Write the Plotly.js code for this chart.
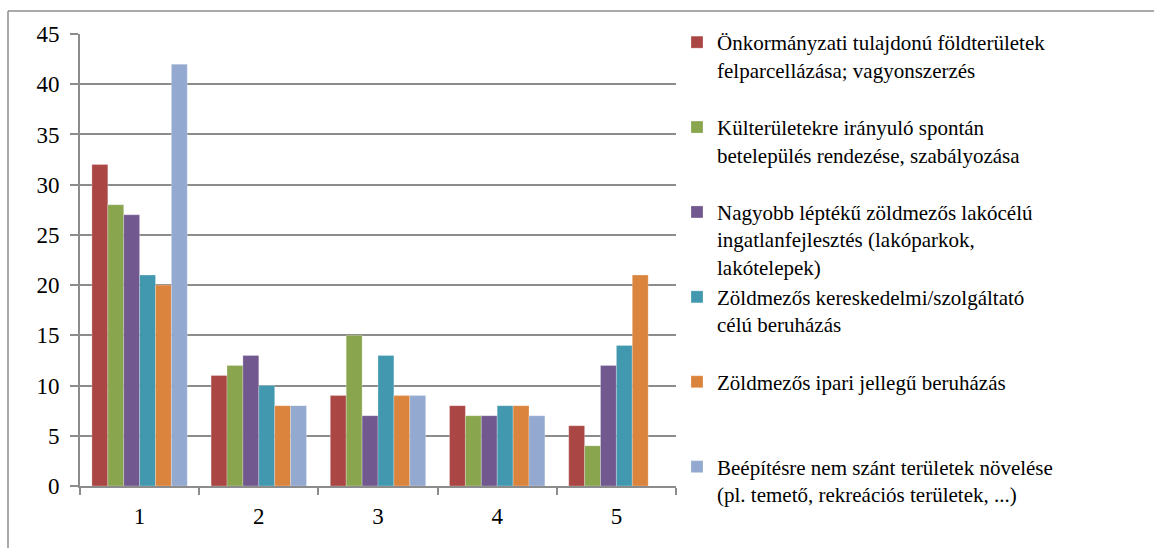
<!DOCTYPE html>
<html><head><meta charset="utf-8">
<script src="https://cdn.plot.ly/plotly-3.0.1.min.js"></script>
<style>html,body{margin:0;padding:0;background:#fff}</style>
</head><body><div id="chart" style="width:1154px;height:548px"></div>
<script>
const categories = ['1', '2', '3', '4', '5'];
const seriesNames = [
  'Önkormányzati tulajdonú földterületek<br>felparcellázása; vagyonszerzés<br> ',
  'Külterületekre irányuló spontán<br>betelepülés rendezése, szabályozása<br> ',
  'Nagyobb léptékű zöldmezős lakócélú<br>ingatlanfejlesztés (lakóparkok,<br>lakótelepek)',
  'Zöldmezős kereskedelmi/szolgáltató<br>célú beruházás<br> ',
  'Zöldmezős ipari jellegű beruházás<br> <br> ',
  'Beépítésre nem szánt területek növelése<br>(pl. temető, rekreációs területek, ...)'
];
const s1 = [32, 11, 9, 8, 6];
const s2 = [28, 12, 15, 7, 4];
const s3 = [27, 13, 7, 7, 12];
const s4 = [21, 10, 13, 8, 14];
const s5 = [20, 8, 9, 8, 21];
const s6 = [42, 8, 9, 7, 0];
const seriesValues = [s1, s2, s3, s4, s5, s6];
const colors = ['#AA4643', '#89A54E', '#71588F', '#4198AF', '#DB843D', '#93A9CF'];

const traces = seriesValues.map((v, i) => ({
  type: 'bar', x: categories, y: v, name: seriesNames[i],
  marker: {color: colors[i], line: {color: 'rgba(255,255,255,0.5)', width: 0.5}}
}));

const W = 596, H = 452, L = 80, T = 34;
const px = x => (x - L) / W;
const py = y => 1 - (y - T) / H;

const layout = {
  width: 1154, height: 548,
  margin: {l: L, r: 1154 - L - W, t: T, b: 548 - T - H},
  paper_bgcolor: '#fff', plot_bgcolor: '#fff',
  barmode: 'group', bargap: 0.2, bargroupgap: 0,
  font: {family: 'Times New Roman', size: 21, color: '#000'},
  showlegend: true,
  legend: {x: px(677), y: py(22), xanchor: 'left', yanchor: 'top', valign: 'top', maxheight: 1,
           font: {family: 'Times New Roman', size: 21, color: '#000'}, tracegroupgap: 0, bgcolor: 'rgba(0,0,0,0)'},
  xaxis: {type: 'category', showgrid: false, showline: true, linecolor: '#8c8c8c', linewidth: 2,
          ticks: 'outside', tickson: 'boundaries', ticklen: 7, tickcolor: '#8c8c8c', tickwidth: 2,
          tickfont: {family: 'Times New Roman', size: 23, color: '#000'}, ticklabelstandoff: 8},
  yaxis: {range: [0, 45], dtick: 5, showgrid: true, gridcolor: '#8c8c8c', gridwidth: 2,
          showline: true, linecolor: '#8c8c8c', linewidth: 2, zeroline: false,
          ticks: 'outside', ticklen: 8, tickcolor: '#8c8c8c', tickwidth: 2,
          tickfont: {family: 'Times New Roman', size: 23, color: '#000'}, ticklabelstandoff: 6},
  shapes: [
    {type: 'line', xref: 'paper', yref: 'paper', x0: px(8), x1: px(1160), y0: py(11), y1: py(11),
     line: {color: '#8c8c8c', width: 1.5}, layer: 'below'},
    {type: 'line', xref: 'paper', yref: 'paper', x0: px(8), x1: px(8), y0: py(11), y1: py(560),
     line: {color: '#8c8c8c', width: 1.5}, layer: 'below'}
  ]
};
Plotly.newPlot('chart', traces, layout, {displayModeBar: false, staticPlot: true});
</script></body></html>
